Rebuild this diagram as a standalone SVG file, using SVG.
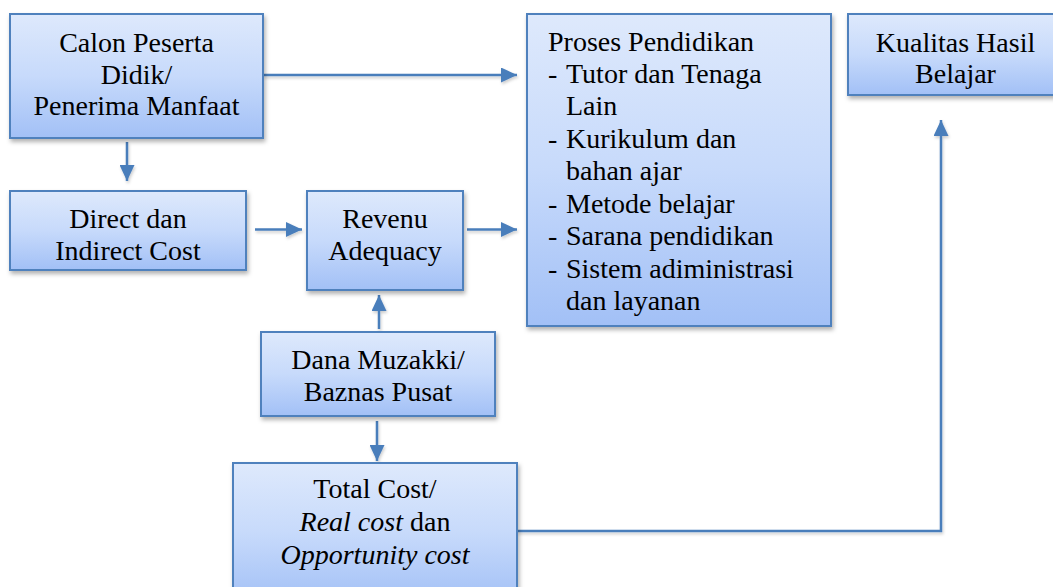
<svg xmlns="http://www.w3.org/2000/svg" width="1053" height="587" viewBox="0 0 1053 587">
<style>
.box{fill:url(#g);stroke:#4f81bd;stroke-width:2;filter:url(#sh)}
text{font-family:"Liberation Serif","Times New Roman",serif;font-size:28px;fill:#000}
.c{text-anchor:middle}
.con{fill:none;stroke:#4a7ebb;stroke-width:2.5;marker-end:url(#ah)}
</style>
<defs>
<linearGradient id="g" x1="0" y1="0" x2="0" y2="1">
<stop offset="0" stop-color="#dee9fc"/>
<stop offset="0.5" stop-color="#c7dafb"/>
<stop offset="1" stop-color="#a2c0f6"/>
</linearGradient>
<filter id="sh" x="-10%" y="-10%" width="130%" height="130%">
<feDropShadow dx="1.5" dy="3" stdDeviation="2" flood-color="#000" flood-opacity="0.3"/>
</filter>
<filter id="lsh" x="-5%" y="-5%" width="110%" height="110%">
<feDropShadow dx="1" dy="2" stdDeviation="1.5" flood-color="#000" flood-opacity="0.2"/>
</filter>
<marker id="ah" markerUnits="userSpaceOnUse" markerWidth="16" markerHeight="15" refX="16" refY="7.5" orient="auto">
<path d="M0,0 L16,7.5 L0,15 z" fill="#4a7ebb"/>
</marker>
</defs>
<g id="connectors" filter="url(#lsh)">
<line class="con" x1="263" y1="75" x2="517" y2="75"/>
<line class="con" x1="127" y1="142" x2="127" y2="181"/>
<line class="con" x1="255" y1="229.5" x2="302" y2="229.5"/>
<line class="con" x1="467" y1="229.5" x2="517" y2="229.5"/>
<line class="con" x1="379" y1="329" x2="379" y2="295"/>
<line class="con" x1="377" y1="421" x2="377" y2="461"/>
<polyline class="con" points="517,531 941,531 941,120"/>
</g>
<g id="calon">
<rect class="box" x="10" y="14" width="253" height="124"/>
<text class="c" x="136.5" y="52">Calon Peserta</text>
<text class="c" x="136.5" y="83.5">Didik/</text>
<text class="c" x="136.5" y="115">Penerima Manfaat</text>
</g>
<g id="proses">
<rect class="box" x="527" y="14" width="304" height="312"/>
<text x="548" y="51">Proses Pendidikan</text>
<text x="548" y="83">-</text><text x="566" y="83">Tutor dan Tenaga</text>
<text x="566" y="115">Lain</text>
<text x="548" y="148">-</text><text x="566" y="148">Kurikulum dan</text>
<text x="566" y="180">bahan ajar</text>
<text x="548" y="212.5">-</text><text x="566" y="212.5">Metode belajar</text>
<text x="548" y="245">-</text><text x="566" y="245">Sarana pendidikan</text>
<text x="548" y="277.5">-</text><text x="566" y="277.5">Sistem adiministrasi</text>
<text x="566" y="310">dan layanan</text>
</g>
<g id="kualitas">
<rect class="box" x="848" y="14" width="215" height="81"/>
<text class="c" x="955.5" y="52">Kualitas Hasil</text>
<text class="c" x="955.5" y="83">Belajar</text>
</g>
<g id="direct">
<rect class="box" x="10" y="191" width="236" height="79"/>
<text class="c" x="128" y="228">Direct dan</text>
<text class="c" x="128" y="260">Indirect Cost</text>
</g>
<g id="revenu">
<rect class="box" x="307" y="191" width="156" height="99"/>
<text class="c" x="385" y="228">Revenu</text>
<text class="c" x="385" y="260">Adequacy</text>
</g>
<g id="dana">
<rect class="box" x="261" y="332" width="234" height="84"/>
<text class="c" x="378" y="369">Dana Muzakki/</text>
<text class="c" x="378" y="401">Baznas Pusat</text>
</g>
<g id="total">
<rect class="box" x="233" y="463" width="284" height="140"/>
<text class="c" x="375" y="498">Total Cost/</text>
<text class="c" x="375" y="531"><tspan font-style="italic">Real cost</tspan> dan</text>
<text class="c" x="375" y="564" font-style="italic">Opportunity cost</text>
</g>
</svg>
